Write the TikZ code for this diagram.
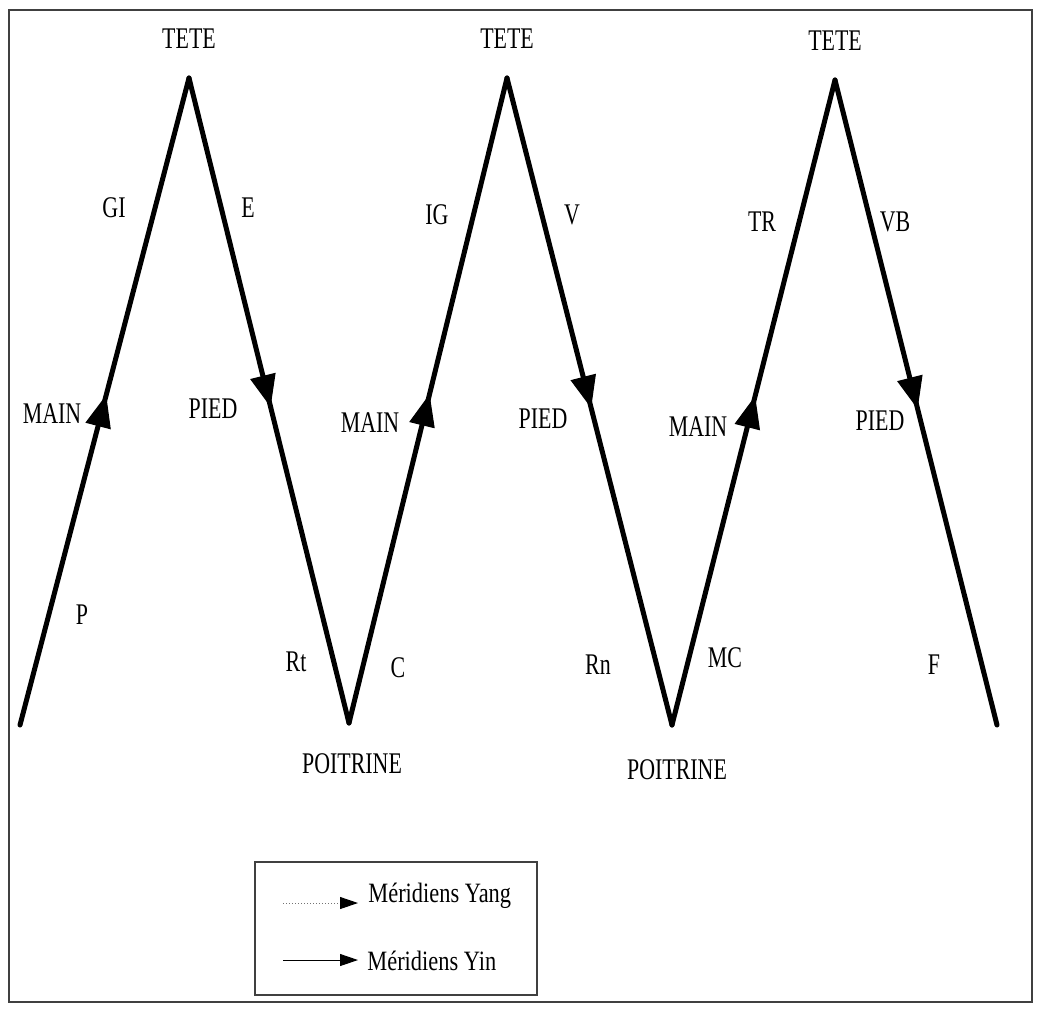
\documentclass[tikz,border=0pt]{standalone}
\usepackage{fontspec}
\setmainfont{Liberation Serif}
\usetikzlibrary{arrows.meta,decorations.markings}
\newcommand{\cnd}[1]{\scalebox{0.73}[1]{#1}}
\begin{document}
\begin{tikzpicture}[x=0.5pt,y=-0.5pt,
  lbl/.style={inner sep=0pt, anchor=base, font=\fontsize{15}{15}\selectfont},
  leg/.style={inner sep=0pt, anchor=base west, font=\fontsize{14}{14}\selectfont},
  frame/.style={draw=black!75, line width=0.6pt},
  meridian/.style={line width=2.5pt, line cap=round,
    postaction={decorate},
    decoration={markings, mark=at position 0.51 with {\arrow[line width=0.6pt]{Triangle[length=16pt,width=13pt]}}}},
  yang/.style={draw=black!55, line width=0.5pt, densely dotted},
  yin/.style={draw=black, line width=0.5pt},
  legtip/.style={-{Triangle[length=9pt,width=6pt,color=black]}}
]
\useasboundingbox (0,0) rectangle (1037,1009);
% outer frame
\draw[frame] (9,10) rectangle (1032,1002);

% vertices
\coordinate (a0) at (20,725);
\coordinate (t1) at (189,78);
\coordinate (b1) at (349,723);
\coordinate (t2) at (507,78);
\coordinate (b2) at (672,725);
\coordinate (t3) at (835,80);
\coordinate (a6) at (997,725);

\draw[meridian] (a0) -- (t1);
\draw[meridian] (t1) -- (b1);
\draw[meridian] (b1) -- (t2);
\draw[meridian] (t2) -- (b2);
\draw[meridian] (b2) -- (t3);
\draw[meridian] (t3) -- (a6);

% labels
\node[lbl] (tete1) at (189,48) {\cnd{TETE}};
\node[lbl] (tete2) at (507,48) {\cnd{TETE}};
\node[lbl] (tete3) at (835,50) {\cnd{TETE}};

\node[lbl] (gi) at (114,217) {\cnd{GI}};
\node[lbl] (e) at (248,217) {\cnd{E}};
\node[lbl] (ig) at (437,224) {\cnd{IG}};
\node[lbl] (v) at (572,224) {\cnd{V}};
\node[lbl] (tr) at (762,231) {\cnd{TR}};
\node[lbl] (vb) at (895,231) {\cnd{VB}};

\node[lbl] (main1) at (52,423) {\cnd{MAIN}};
\node[lbl] (pied1) at (213,418) {\cnd{PIED}};
\node[lbl] (main2) at (370,432) {\cnd{MAIN}};
\node[lbl] (pied2) at (543,428) {\cnd{PIED}};
\node[lbl] (main3) at (698,436) {\cnd{MAIN}};
\node[lbl] (pied3) at (880,430) {\cnd{PIED}};

\node[lbl] (p) at (82,624) {\cnd{P}};
\node[lbl] (rt) at (296,671) {\cnd{Rt}};
\node[lbl] (c) at (398,677) {\cnd{C}};
\node[lbl] (rn) at (598,674) {\cnd{Rn}};
\node[lbl] (mc) at (725,667) {\cnd{MC}};
\node[lbl] (f) at (934,674) {\cnd{F}};

\node[lbl] (poi1) at (352,773) {\cnd{POITRINE}};
\node[lbl] (poi2) at (677,779) {\cnd{POITRINE}};

% legend
\draw[frame] (255,862) rectangle (537,995);
\coordinate (ya) at (283,903);
\coordinate (yb) at (358,903);
\coordinate (na) at (283,960);
\coordinate (nb) at (358,960);
\draw[yang, legtip] (ya) -- (yb);
\draw[yin, legtip] (na) -- (nb);
\node[leg] (lyang) at (368,902) {\scalebox{0.8}[1]{Méridiens Yang}};
\node[leg] (lyin) at (367,970) {\scalebox{0.8}[1]{Méridiens Yin}};
\end{tikzpicture}
\end{document}
